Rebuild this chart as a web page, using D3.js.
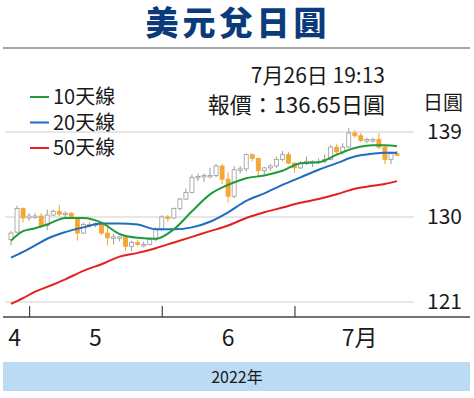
<!DOCTYPE html>
<html>
<head>
<meta charset="utf-8">
<script src="https://cdn.jsdelivr.net/npm/d3@7"></script>
<style>
  body { margin: 0; background: #fff; }
  svg text { font-family: "Liberation Sans Narrow", "Noto Sans CJK TC", sans-serif; fill: #1a1a1a; }
</style>
</head>
<body>
<div id="chart"></div>
<script>
// trading days, 2022
var dates = ["04-27","04-28","04-29",
  "05-02","05-03","05-04","05-05","05-06","05-09","05-10","05-11","05-12","05-13",
  "05-16","05-17","05-18","05-19","05-20","05-23","05-24","05-25","05-26","05-27","05-30","05-31",
  "06-01","06-02","06-03","06-06","06-07","06-08","06-09","06-10","06-13","06-14","06-15","06-16","06-17",
  "06-20","06-21","06-22","06-23","06-24","06-27","06-28","06-29","06-30",
  "07-01","07-04","07-05","07-06","07-07","07-08","07-11","07-12","07-13","07-14","07-15",
  "07-18","07-19","07-20","07-21","07-22","07-25","07-26"];
var opens  = [127.6,128.4,130.9, 129.9,130.1,130.1,129.1,130.2,130.6,130.3,130.4,129.9,128.3,
  129.2,129.1,129.3,128.3,127.8,127.9,127.9,126.9,127.3,127.1,127.1,127.6,
  128.7,130.0,129.9,130.9,131.9,132.6,134.2,134.3,134.4,134.4,135.4,134.0,132.2,
  135.0,135.1,136.6,136.2,134.9,135.2,135.4,136.1,136.6,
  135.7,135.2,135.7,135.9,135.9,135.9,136.1,137.4,136.9,137.4,138.9,
  138.6,138.1,138.2,138.2,137.4,136.1,136.7];
var highs  = [128.5,131.2,131.0, 130.4,130.4,130.4,130.8,130.8,131.3,130.6,130.5,130.0,129.4,
  129.5,129.4,129.4,128.9,128.2,128.0,127.9,127.5,127.6,127.4,127.8,128.9,
  130.2,130.2,131.0,132.0,133.0,134.5,134.6,134.6,135.2,135.6,135.6,134.7,135.4,
  135.4,136.7,136.7,136.3,135.3,135.6,136.4,137.0,136.9,
  135.8,135.9,136.4,136.0,136.2,136.6,137.6,137.7,137.8,139.4,139.2,
  138.9,138.4,138.4,138.9,137.6,136.9,137.0];
var lows   = [127.0,128.3,129.4, 129.6,129.8,128.9,128.6,130.1,130.1,129.9,129.8,127.5,128.2,
  128.9,128.9,128.1,127.0,127.1,127.4,126.4,126.4,126.9,126.8,127.0,127.4,
  128.5,129.5,129.8,130.7,131.8,132.5,133.8,133.7,134.1,134.2,133.5,131.5,132.0,
  134.6,134.8,135.9,134.3,134.5,134.9,135.2,135.9,135.6,
  134.7,135.1,135.5,135.3,135.6,135.7,136.0,136.5,136.6,137.3,138.4,
  137.9,137.8,137.9,137.2,135.6,135.6,136.5];
var closes = [128.3,130.9,129.9, 130.1,130.1,129.1,130.2,130.6,130.3,130.4,129.9,128.3,129.2,
  129.1,129.3,128.3,127.8,127.9,127.9,126.9,127.3,127.1,127.1,127.6,128.7,
  130.0,129.9,130.9,131.9,132.6,134.2,134.3,134.4,134.4,135.4,134.0,132.2,135.0,
  135.1,136.6,136.2,134.9,135.2,135.4,136.1,136.6,135.7,
  135.2,135.7,135.9,135.9,135.9,136.1,137.4,136.9,137.4,138.9,138.6,
  138.1,138.2,138.2,137.4,136.1,136.7,136.65];

// moving averages
var maDates = ["04-27","04-29","05-03","05-05","05-10","05-13","05-18","05-23","05-26","05-31",
  "06-03","06-08","06-13","06-16","06-21","06-24","06-29","07-04","07-07","07-12","07-15","07-20","07-22","07-26"];
var ma10 = [127.5,128.5,128.8,129.2,129.9,129.9,129.4,128.2,127.8,127.7,
  128.7,130.6,132.4,133.4,134.1,134.4,134.9,135.7,135.8,136.6,137.3,137.6,137.6,137.5];
var ma20 = [125.7,126.3,127.0,127.7,128.4,128.9,129.3,129.3,129.2,128.7,
  128.7,128.9,129.5,130.5,131.7,132.5,133.4,134.2,135.0,135.7,136.4,136.7,136.8,136.8];
var ma50 = [120.8,121.4,122.1,122.6,123.4,124.3,125.0,125.8,126.2,126.7,
  127.3,127.9,128.5,129.1,129.9,130.5,131.0,131.5,131.9,132.4,133.0,133.3,133.5,133.8];

var yTicks = [121, 130, 139];
var monthStarts = ["05-02", "06-01", "07-01"];
var monthLabels = ["4", "5", "6", "7月"];

var W = 474, H = 398;
var svg = d3.select("#chart").append("svg").attr("width", W).attr("height", H);

var x = d3.scalePoint().domain(dates).range([11, 397]);
var y = d3.scaleLinear().domain([121, 139]).range([302, 132]);

// title
svg.append("text").attr("x", 238).attr("y", 35).attr("text-anchor", "middle")
  .style("font-family", "'Noto Sans CJK TC', sans-serif").style("font-weight", 900)
  .style("font-size", "33px").style("fill", "#0c3b7c").style("letter-spacing", "4px")
  .text("美元兌日圓");
svg.append("line").attr("x1", 3).attr("x2", 470).attr("y1", 48).attr("y2", 48)
  .attr("stroke", "#888").attr("stroke-width", 1.5);

// grid + y labels
svg.selectAll(".grid").data(yTicks).enter().append("line")
  .attr("x1", 5).attr("x2", 414)
  .attr("y1", function(d) { return y(d); }).attr("y2", function(d) { return y(d); })
  .attr("stroke", "#cfcfcf").attr("stroke-width", 1);
svg.selectAll(".ylab").data(yTicks).enter().append("text")
  .attr("x", 427).attr("y", function(d) { return y(d) + 7; })
  .style("font-size", "21px").text(function(d) { return d; });
svg.append("text").attr("x", 443).attr("y", 110).attr("text-anchor", "middle")
  .style("font-size", "20px").text("日圓");

// candles
var candles = svg.append("g");
var bw = 4;
dates.forEach(function(d, i) {
  var up = closes[i] >= opens[i];
  var col = up ? "#9a9a9a" : "#f2a530";
  var cx = x(d);
  candles.append("line").attr("x1", cx).attr("x2", cx)
    .attr("y1", y(highs[i])).attr("y2", y(lows[i]))
    .attr("stroke", col).attr("stroke-width", 1);
  var top = y(Math.max(opens[i], closes[i]));
  var bot = y(Math.min(opens[i], closes[i]));
  candles.append("rect").attr("x", cx - bw / 2).attr("y", top)
    .attr("width", bw).attr("height", Math.max(1.5, bot - top))
    .attr("fill", up ? "#fff" : "#f5a733").attr("stroke", col).attr("stroke-width", 0.8);
});

// moving average lines
var line = d3.line()
  .x(function(d) { return x(d[0]); })
  .y(function(d) { return y(d[1]); })
  .curve(d3.curveMonotoneX);
var series = [
  { vals: ma50, color: "#e3211f" },
  { vals: ma20, color: "#1f6cc0" },
  { vals: ma10, color: "#1f9a3c" }
];
series.forEach(function(s) {
  svg.append("path").datum(maDates.map(function(d, i) { return [d, s.vals[i]]; }))
    .attr("d", line).attr("fill", "none").attr("stroke", s.color).attr("stroke-width", 2);
});

// legend
var legend = [["10天線", "#1f9a3c"], ["20天線", "#1f6cc0"], ["50天線", "#e3211f"]];
legend.forEach(function(l, i) {
  var ly = 97 + i * 25.5;
  svg.append("line").attr("x1", 30).attr("x2", 49).attr("y1", ly).attr("y2", ly)
    .attr("stroke", l[1]).attr("stroke-width", 2);
  svg.append("text").attr("x", 53).attr("y", ly + 7).style("font-size", "20px").text(l[0]);
});

// latest quote
svg.append("text").attr("x", 385).attr("y", 83).attr("text-anchor", "end")
  .style("font-size", "21px").text("7月26日 19:13");
svg.append("text").attr("x", 385).attr("y", 113).attr("text-anchor", "end")
  .style("font-size", "22px").text("報價：136.65日圓");

// x axis
svg.append("line").attr("x1", 3).attr("x2", 470).attr("y1", 317).attr("y2", 317)
  .attr("stroke", "#444").attr("stroke-width", 1.5);
var xAxis = d3.axisBottom(x).tickValues(monthStarts).tickSizeInner(-11).tickSizeOuter(0).tickFormat("");
var ax = svg.append("g").attr("transform", "translate(0,317)").call(xAxis);
ax.select(".domain").remove();
ax.selectAll(".tick line").attr("stroke", "#444").attr("stroke-width", 1.2);

var bounds = [0].concat(monthStarts.map(function(d) { return x(d); })).concat([425]);
monthLabels.forEach(function(m, i) {
  svg.append("text").attr("x", (bounds[i] + bounds[i + 1]) / 2).attr("y", 346)
    .attr("text-anchor", "middle").style("font-size", "23px").text(m);
});

// year band
svg.append("rect").attr("x", 3).attr("y", 362).attr("width", 467).attr("height", 29)
  .attr("fill", "#badbf3");
svg.append("text").attr("x", 237).attr("y", 383).attr("text-anchor", "middle")
  .style("font-size", "16px").text("2022年");
</script>
</body>
</html>
